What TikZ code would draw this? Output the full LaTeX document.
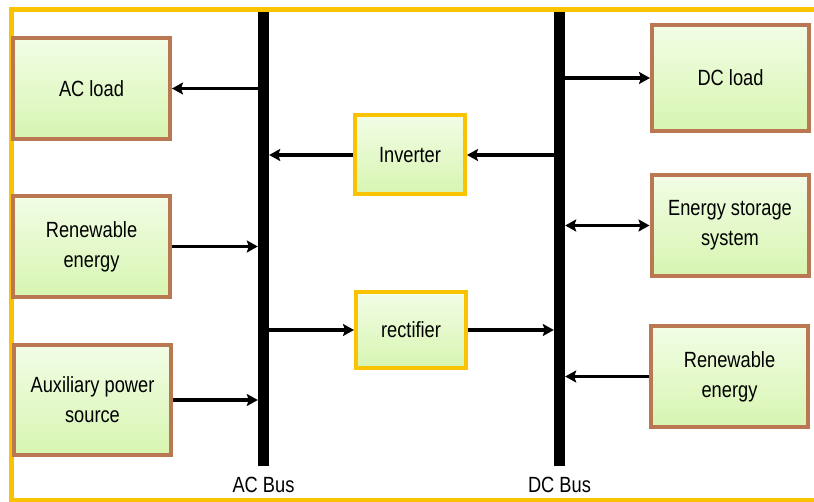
\documentclass[tikz,border=0pt]{standalone}
\usepackage{fontspec}
\setmainfont[FakeStretch=0.83]{Liberation Sans}
\usetikzlibrary{arrows.meta,shapes,positioning}
\definecolor{frameyellow}{RGB}{250,195,0}
\definecolor{boxbrown}{RGB}{185,120,82}
\definecolor{greentop}{RGB}{242,253,230}
\definecolor{greenbottom}{RGB}{215,245,176}

\begin{document}
\begin{tikzpicture}[x=1pt,y=-1pt]
    \tikzset{vertex/.style = {shape=rectangle,draw=boxbrown,line width=4pt,top color=greentop,bottom color=greenbottom,align=center,inner sep=0pt,minimum width=157pt,minimum height=101pt,font=\fontsize{22}{30}\selectfont}}
    \tikzset{converter/.style = {vertex,draw=frameyellow,minimum width=110pt,minimum height=79pt}}
    \tikzset{bus/.style = {shape=rectangle,fill=black,inner sep=0pt,minimum width=11pt,minimum height=454pt}}
    \tikzset{edge/.style = {-{Stealth[length=11pt,width=12pt,inset=2pt]},line width=3.4pt}}
    \useasboundingbox (0,0) rectangle (814,502);
    \draw[frameyellow,line width=5pt] (11,9.5) rectangle (830,500.5);
    % vertices
    \node[vertex] (1) at (91.5,88.5) {AC load};
    \node[vertex] (2) at (91.5,246.5) {Renewable\\ energy};
    \node[vertex,minimum height=110pt] (3) at (92.5,400) {Auxiliary power\\ source};
    \node[vertex,minimum height=106pt] (4) at (730.5,78) {DC load};
    \node[vertex] (5) at (730,225.5) {Energy storage\\ system};
    \node[vertex] (6) at (729.5,376.5) {Renewable\\ energy};
    \node[converter] (7) at (410,155) {Inverter};
    \node[converter,minimum height=76pt] (8) at (411,330) {rectifier};
    \node[bus] (9) at (263.5,239) {};
    \node[bus] (10) at (559.5,239) {};
    \node[below=7pt of 9,font=\fontsize{22}{26}\selectfont] (11) {AC Bus};
    \node[below=7pt of 10,font=\fontsize{22}{26}\selectfont] (12) {DC Bus};
    % connectors
    \draw[edge] (9.west |- 1.east) -- (1.east);
    \draw[edge] (2.east) -- (2.east -| 9.west);
    \draw[edge] (3.east) -- (3.east -| 9.west);
    \draw[edge] (7.west) -- (7.west -| 9.east);
    \draw[edge] (10.west |- 7.east) -- (7.east);
    \draw[edge] (9.east |- 8.west) -- (8.west);
    \draw[edge] (8.east) -- (8.east -| 10.west);
    \draw[edge] (10.east |- 4.west) -- (4.west);
    \draw[edge,{Stealth[length=11pt,width=12pt,inset=2pt]}-{Stealth[length=11pt,width=12pt,inset=2pt]}] (10.east |- 5.west) -- (5.west);
    \draw[edge] (6.west) -- (6.west -| 10.east);
\end{tikzpicture}
\end{document}
